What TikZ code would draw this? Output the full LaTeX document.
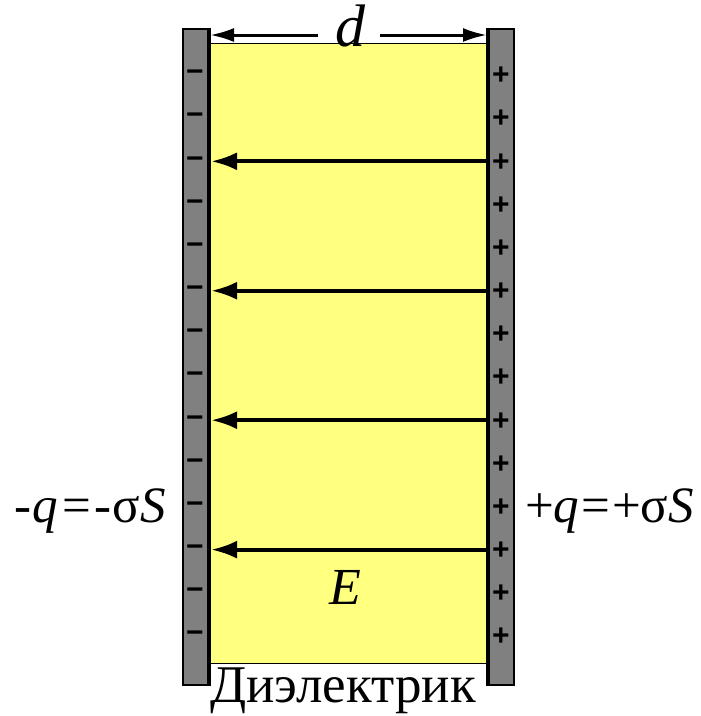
\documentclass[tikz,border=0pt]{standalone}
\usepackage{fontspec}
\setmainfont{Liberation Serif}
\newfontfamily\signfont{Liberation Sans}
\usetikzlibrary{arrows.meta}
\definecolor{diel}{RGB}{255,255,128}
\definecolor{platec}{RGB}{128,128,128}
\tikzset{
  plate/.style={draw=black,line width=2pt,fill=platec,inner sep=0pt,minimum width=27pt,minimum height=656pt},
  dielbox/.style={draw=black,line width=1pt,fill=diel,inner sep=0pt,minimum width=277pt,minimum height=620pt},
  sign/.style={font=\signfont\bfseries\fontsize{30}{30}\selectfont,inner sep=0pt},
  field/.style={line width=4pt,-{Latex[length=26pt,width=18pt]}},
  dim/.style={line width=3pt,-{Latex[length=24pt,width=14pt]}},
  lab/.style={font=\fontsize{51}{51}\selectfont,inner sep=0pt},
}
\begin{document}
\begin{tikzpicture}[x=1pt,y=-1pt]
\useasboundingbox (0,0) rectangle (701,716);
\node[dielbox] (diel) at (348.5,353) {};
\node[plate] (lp) at (196,356.5) {};
\node[plate] (rp) at (500,356.5) {};
\draw[line width=4pt] ([xshift=-2pt]lp.north east) -- ([xshift=-2pt]lp.south east);
\draw[line width=4pt] ([xshift=2pt]rp.north west) -- ([xshift=2pt]rp.south west);
\foreach \i in {0,...,13}{
  \node[sign] (m\i) at (195,{76+43.15*\i}) {−};
  \node[sign] (p\i) at (501,{76+43.15*\i}) {+};
}
\foreach \i in {2,5,8,11}{
  \coordinate (fs\i) at (487,{75+43.15*\i});
  \coordinate (fe\i) at (211,{75+43.15*\i});
  \draw[field] (fs\i) -- (fe\i);
}
\node[lab,font=\itshape\fontsize{60}{60}\selectfont,anchor=base] (d) at (350,46) {d};
\coordinate (dl) at (210,35);
\coordinate (dr) at (487,35);
\draw[dim] (318,35) coordinate (dlm) -- (dl);
\draw[dim] (380,35) coordinate (drm) -- (dr);
\node[lab,font=\itshape\fontsize{52}{52}\selectfont,anchor=base] (E) at (345,604) {E};
\node[lab,anchor=base] (diname) at (343,702) {\fontsize{53}{53}\selectfont Диэлектрик};
\node[lab,anchor=base east] (ql) at (166,522) {-\kern1pt\textit{q}\kern4pt=\kern4pt-\kern1ptσ\textit{S}};
\node[lab,anchor=base west] (qr) at (525,522) {+\textit{q}\kern2pt=\kern2pt+σ\textit{S}};
\end{tikzpicture}
\end{document}
